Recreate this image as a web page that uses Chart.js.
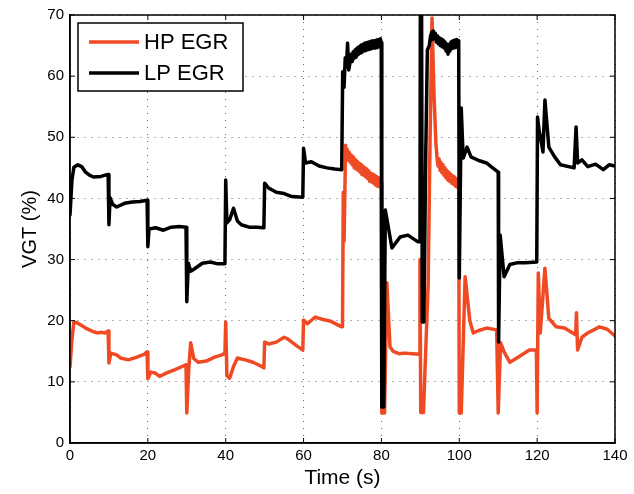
<!DOCTYPE html>
<html>
<head>
<meta charset="utf-8">
<script src="https://cdn.jsdelivr.net/npm/chart.js@4"></script>
<style>
  html, body { margin: 0; padding: 0; background: #fff; }
  #wrap { width: 634px; height: 494px; }
</style>
</head>
<body>
<div id="wrap"><canvas id="vgt-chart"></canvas></div>
<script>
// HP EGR trace
var hpTime = [0, 0.5, 1, 2, 3, 4, 5, 6, 7, 8, 9, 9.8,
    10, 10.5, 12, 13, 15, 17, 19, 19.8,
    20, 20.8, 22, 23, 25, 27, 29.8,
    30, 30.5, 31, 31.8, 33, 35, 37, 39, 39.8,
    40, 40.3, 41, 42, 43, 45, 47, 49, 49.8,
    50, 51, 53, 55, 56, 58, 59.8,
    60, 61, 63, 65, 67, 69.8,
    70, 70.2, 70.4, 70.8, 71, 71.25, 71.5, 71.75, 72, 72.25, 72.5, 72.75, 73, 73.25, 73.5, 73.75, 74, 74.25, 74.5, 74.75,
    75, 75.25, 75.5, 75.75, 76, 76.25, 76.5, 76.75, 77, 77.25, 77.5, 77.75, 78, 78.25, 78.5, 78.75, 79, 79.25, 79.5, 79.75, 79.95,
    80.1, 80.8, 81.4, 82.2, 83, 84.5, 86, 88, 89.8,
    89.9, 90.1, 90.8, 92, 92.5, 93, 93.5, 94, 94.3, 94.55, 94.8, 95.05, 95.3, 95.55, 95.8, 96.05, 96.3, 96.55, 96.8,
    97.05, 97.3, 97.55, 97.8, 98.05, 98.3, 98.55, 98.8, 99.05, 99.3, 99.55, 99.85,
    100, 100.5, 101.5, 102.7, 103.6, 105, 107, 109.6,
    110, 110.6, 111.5, 113, 115, 118, 119.8,
    120, 120.3, 120.8, 122, 123, 124.9, 127, 129.9,
    130.1, 130.4, 131.5, 133, 136, 138, 140];
var hpVgt = [12.4, 17, 19.8, 19.6, 19.2, 18.8, 18.5, 18.2, 18.0, 18.1, 18.0, 18.3,
    13.1, 14.7, 14.4, 13.9, 13.6, 14.0, 14.5, 14.9,
    10.5, 11.6, 11.4, 10.9, 11.5, 12.0, 12.8,
    4.9, 12.0, 16.4, 13.8, 13.2, 13.4, 14.0, 14.4, 14.7,
    19.8, 11.0, 10.6, 12.5, 13.9, 13.6, 13.2, 12.6, 12.3,
    16.5, 16.2, 16.5, 17.3, 17.0, 16.0, 15.2,
    20.1, 19.5, 20.6, 20.2, 19.9, 19.0,
    19.0, 41.0, 33.0, 48.7, 46.8, 48.0, 46.3, 47.5, 45.9, 47.1, 45.5, 46.8, 45.0, 46.4, 44.8, 46.1, 44.6, 45.8, 44.3, 45.6,
    43.9, 45.3, 43.8, 45.0, 43.5, 44.8, 43.2, 44.5, 42.8, 44.1, 42.7, 44.0, 42.5, 43.8, 42.2, 43.6, 42.0, 43.4, 41.9, 43.2, 42.5,
    4.9, 4.9, 26.2, 15.7, 15.0, 14.6, 14.7, 14.6, 14.5,
    30.0, 5.0, 5.0, 26.0, 50.0, 69.5, 57.0, 49.0, 46.5, 45.3, 46.5, 44.6, 45.9, 44.2, 45.5, 43.8, 45.0, 43.4, 44.6,
    43.0, 44.3, 42.8, 44.0, 42.5, 43.7, 42.3, 43.5, 42.0, 43.2, 41.8, 42.8,
    4.9, 4.9, 27.2, 20, 18, 18.4, 18.8, 18.5,
    4.9, 16.4, 14.9, 13.2, 14.0, 15.2, 15.2,
    4.9, 27.8, 18, 28.6, 20.4, 19, 18.8, 17.7,
    21.3, 15.2, 17.3, 18, 19, 18.6, 17.5];

// LP EGR trace
var lpTime = [0, 0.5, 1, 2, 3, 4, 5, 6, 8, 9, 9.8,
    10, 10.3, 11, 12, 14, 16, 18, 19.8,
    20, 20.3, 22, 24, 26, 28, 29.8,
    30, 30.4, 31, 32, 34, 36, 38, 39.8,
    40, 40.3, 41, 42, 43, 44, 46, 48, 49.8,
    50, 51, 53, 55, 57, 59.8,
    60, 60.5, 62, 64, 66, 68, 69.8,
    70.05, 70.4, 70.7, 71, 71.3, 71.6, 72, 72.25, 72.5, 72.75, 73, 73.25, 73.5, 73.75, 74, 74.25, 74.5, 74.75,
    75, 75.25, 75.5, 75.75, 76, 76.25, 76.5, 76.75, 77, 77.25, 77.5, 77.75, 78, 78.25, 78.5, 78.75, 79, 79.25, 79.5, 79.75, 79.95,
    80.1, 80.6, 81, 82.7, 84.8, 86.8, 89.4, 89.9,
    90, 90.3, 90.5, 90.9, 91.4, 91.8, 92.3, 92.6, 92.9, 93.1, 93.35, 93.6, 93.85, 94.1, 94.35, 94.6, 94.85, 95.1, 95.35, 95.6, 95.85,
    96.1, 96.35, 96.6, 96.85, 97.1, 97.35, 97.6, 97.85, 98.1, 98.35, 98.6, 98.85, 99.1, 99.35, 99.6, 99.85,
    100, 100.5, 101, 102, 103, 105, 107, 108, 110,
    110.1, 110.5, 111.5, 113, 115, 117, 119.9,
    120.1, 120.5, 121, 121.5, 122, 123, 124.5, 126, 129.5,
    130, 130.4, 131.5, 133, 135, 137, 138.5, 140];
var lpVgt = [37.3, 43, 45.1, 45.5, 45.2, 44.3, 43.8, 43.5, 43.6, 43.8, 43.9,
    35.7, 40.1, 39.0, 38.6, 39.2, 39.4, 39.5, 39.7,
    32.1, 35.0, 35.2, 34.8, 35.3, 35.4, 35.3,
    23.1, 29.4, 28.1, 28.5, 29.4, 29.6, 29.3, 29.3,
    43.0, 36.0, 36.5, 38.4, 36.3, 35.7, 35.3, 35.3, 35.2,
    42.5, 41.7, 41.0, 40.8, 40.3, 40.2,
    48.2, 45.8, 46.0, 45.3, 45.0, 44.8, 44.7,
    60.7, 58.2, 63.0, 61.5, 65.4, 61.0, 62.5, 63.6, 62.4, 64.0, 62.9, 64.3, 63.1, 64.6, 63.5, 64.8, 63.8, 65.1,
    63.9, 65.2, 64.1, 65.4, 64.2, 65.5, 64.3, 65.6, 64.4, 65.7, 64.5, 65.8, 64.6, 65.8, 64.6, 65.9, 64.7, 66.0, 64.8, 66.1, 65.5,
    5.9, 5.9, 38.1, 31.9, 33.7, 34.0, 32.9, 32.9,
    75, 75, 19.8, 19.8, 48.0, 64.3, 65.0, 66.5, 67.2, 66.0, 67.4, 66.1, 67.0, 65.6, 66.6, 65.3, 66.3, 65.0, 66.1, 64.8, 65.9,
    64.6, 65.6, 64.1, 65.2, 63.6, 64.8, 64.1, 65.6, 64.5, 65.8, 64.6, 65.9, 64.7, 66.0, 64.8, 65.8,
    27, 54.8, 46.6, 48.4, 46.8, 46.2, 45.8, 45.3, 44.3,
    16.5, 34, 27.2, 29.2, 29.5, 29.5, 29.6,
    53.3, 51.2, 49.5, 47.6, 56.1, 48.4, 46.8, 45.5, 45,
    51.7, 45.8, 46.3, 45.2, 45.6, 44.7, 45.5, 45.3];

var xTicks = [0, 20, 40, 60, 80, 100, 120, 140];
var yTicks = [0, 10, 20, 30, 40, 50, 60, 70];

function toPoints(xs, ys) {
    return xs.map(function (x, i) { return { x: x, y: ys[i] }; });
}

// MATLAB style: box around the axes, inward ticks, legend box inside
var boxPlugin = {
    id: 'matlabBox',
    afterDraw: function (chart) {
        var ctx = chart.ctx;
        var a = chart.chartArea;
        var xs = chart.scales.x, ys = chart.scales.y;
        ctx.save();
        ctx.strokeStyle = '#000';
        ctx.lineWidth = 1.5;
        ctx.strokeRect(a.left, a.top, a.right - a.left, a.bottom - a.top);
        ctx.lineWidth = 1;
        ctx.beginPath();
        xTicks.forEach(function (v) {
            var px = xs.getPixelForValue(v);
            ctx.moveTo(px, a.bottom); ctx.lineTo(px, a.bottom - 5);
            ctx.moveTo(px, a.top); ctx.lineTo(px, a.top + 5);
        });
        yTicks.forEach(function (v) {
            var py = ys.getPixelForValue(v);
            ctx.moveTo(a.left, py); ctx.lineTo(a.left + 5, py);
            ctx.moveTo(a.right, py); ctx.lineTo(a.right - 5, py);
        });
        ctx.stroke();

        // legend
        var lx = a.left + 8, ly = a.top + 8, lw = 165, lh = 68;
        ctx.fillStyle = '#fff';
        ctx.fillRect(lx, ly, lw, lh);
        ctx.lineWidth = 1.5;
        ctx.strokeRect(lx, ly, lw, lh);
        ctx.font = '22px "Liberation Sans", Arial, sans-serif';
        ctx.textBaseline = 'middle';
        chart.data.datasets.forEach(function (ds, i) {
            var yy = ly + 19 + i * 31;
            ctx.strokeStyle = ds.borderColor;
            ctx.lineWidth = 3.5;
            ctx.beginPath();
            ctx.moveTo(lx + 11, yy); ctx.lineTo(lx + 61, yy);
            ctx.stroke();
            ctx.fillStyle = '#000';
            ctx.fillText(ds.label, lx + 66, yy + 1);
        });
        ctx.restore();
    }
};

document.addEventListener("DOMContentLoaded", function () {
    var canvas = document.getElementById('vgt-chart');
    var tickFont = { family: '"Liberation Sans", Arial, sans-serif', size: 15 };

    new Chart(canvas, {
        type: 'line',
        data: {
            datasets: [
                {
                    label: 'HP EGR',
                    data: toPoints(hpTime, hpVgt),
                    borderColor: '#F04A24',
                    backgroundColor: '#F04A24',
                    borderWidth: 3.5,
                    borderJoinStyle: 'round',
                    borderCapStyle: 'round',
                    pointRadius: 0,
                    tension: 0,
                    order: 1
                },
                {
                    label: 'LP EGR',
                    data: toPoints(lpTime, lpVgt),
                    borderColor: '#000000',
                    backgroundColor: '#000000',
                    borderWidth: 3.5,
                    borderJoinStyle: 'round',
                    borderCapStyle: 'round',
                    pointRadius: 0,
                    tension: 0,
                    order: 0
                }
            ]
        },
        options: {
            responsive: true,
            maintainAspectRatio: false,
            animation: false,
            layout: { padding: { left: 0, right: 19, top: 15, bottom: 0 } },
            plugins: {
                legend: { display: false },
                tooltip: { enabled: false }
            },
            scales: {
                x: {
                    type: 'linear',
                    min: 0,
                    max: 140,
                    afterBuildTicks: function (scale) {
                        scale.ticks = xTicks.map(function (v) { return { value: v }; });
                    },
                    afterFit: function (scale) { scale.height = 51; },
                    ticks: { font: tickFont, color: '#000', padding: 4, maxRotation: 0 },
                    grid: { color: '#666', lineWidth: 1, drawTicks: false },
                    border: { display: true, color: '#000', width: 1.5, dash: [1, 6] },
                    title: {
                        display: true,
                        text: 'Time (s)',
                        color: '#000',
                        font: { family: '"Liberation Sans", Arial, sans-serif', size: 21 },
                        padding: { top: 0, bottom: 3 }
                    }
                },
                y: {
                    min: 0,
                    max: 70,
                    afterBuildTicks: function (scale) {
                        scale.ticks = yTicks.map(function (v) { return { value: v }; });
                    },
                    afterFit: function (scale) { scale.width = 70; },
                    ticks: { font: tickFont, color: '#000', padding: 6 },
                    grid: { color: '#666', lineWidth: 1, drawTicks: false },
                    border: { display: true, color: '#000', width: 1.5, dash: [1, 6] },
                    title: {
                        display: true,
                        text: 'VGT (%)',
                        color: '#000',
                        font: { family: '"Liberation Sans", Arial, sans-serif', size: 20 },
                        padding: { top: 18, bottom: 18 }
                    }
                }
            }
        },
        plugins: [boxPlugin]
    });
});
</script>
</body>
</html>
